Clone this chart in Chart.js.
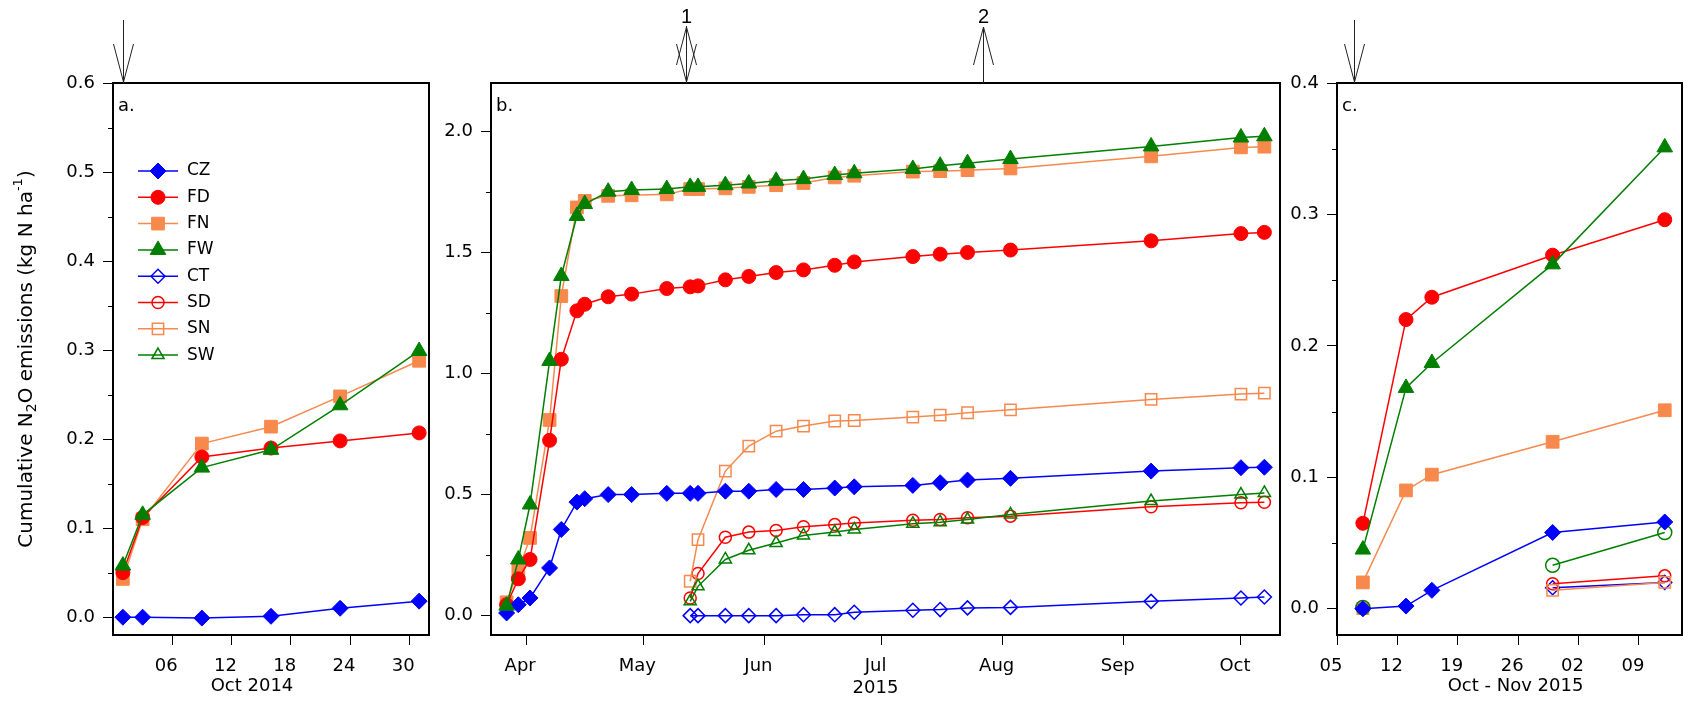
<!DOCTYPE html>
<html>
<head>
<meta charset="utf-8">
<script src="https://cdn.jsdelivr.net/npm/chart.js@4.4.1/dist/chart.umd.min.js"></script>
<style>
  html, body { margin: 0; padding: 0; background: #fff; }
  #wrap { position: relative; width: 1692px; height: 702px; overflow: hidden; }
  .panel { position: absolute; top: 0; height: 702px; }
</style>
</head>
<body>
<div id="wrap">
  <div class="panel" style="left:0;width:440px"><canvas id="chartA" width="440" height="702"></canvas></div>
  <div class="panel" style="left:440px;width:850px"><canvas id="chartB" width="850" height="702"></canvas></div>
  <div class="panel" style="left:1290px;width:402px"><canvas id="chartC" width="402" height="702"></canvas></div>
</div>
<script>
Chart.defaults.font.family = '"DejaVu Sans", sans-serif';
Chart.defaults.color = '#000';

const DAY = 86400000;
const dayOf = (d, origin) => (Date.parse(d) - Date.parse(origin)) / DAY;

const seriesNames = ['CZ', 'FD', 'FN', 'FW', 'CT', 'SD', 'SN', 'SW'];

// a. Oct 2014
const datesA = ['2014-10-01', '2014-10-03', '2014-10-09', '2014-10-16', '2014-10-23', '2014-10-31'];
const czA = [0.000, 0.000, -0.001, 0.001, 0.010, 0.018];
const fdA = [0.050, 0.112, 0.180, 0.190, 0.198, 0.207];
const fnA = [0.043, 0.110, 0.195, 0.214, 0.248, 0.288];
const fwA = [0.058, 0.115, 0.168, 0.188, 0.238, 0.299];
const xTicksA = ['2014-10-06', '2014-10-12', '2014-10-18', '2014-10-24', '2014-10-30'];
const xLabelsA = ['06', '12', '18', '24', '30'];
const yTicksA = [0, 0.1, 0.2, 0.3, 0.4, 0.5, 0.6];
const yMinorA = [0.05, 0.15, 0.25, 0.35, 0.45, 0.55];

// b. 2015
const datesB = ['2015-03-27', '2015-03-30', '2015-04-02', '2015-04-07', '2015-04-10', '2015-04-14', '2015-04-16',
  '2015-04-22', '2015-04-28', '2015-05-07', '2015-05-13', '2015-05-15', '2015-05-22', '2015-05-28', '2015-06-04',
  '2015-06-11', '2015-06-19', '2015-06-24', '2015-07-09', '2015-07-16', '2015-07-23', '2015-08-03', '2015-09-08',
  '2015-10-01', '2015-10-07'];
const czB = [0.011, 0.045, 0.073, 0.197, 0.356, 0.469, 0.483, 0.500, 0.500, 0.505, 0.505, 0.505, 0.514, 0.514,
  0.521, 0.521, 0.527, 0.532, 0.538, 0.549, 0.560, 0.567, 0.597, 0.611, 0.613];
const fdB = [0.045, 0.152, 0.232, 0.724, 1.059, 1.259, 1.286, 1.317, 1.328, 1.351, 1.358, 1.362, 1.387, 1.401,
  1.417, 1.428, 1.447, 1.461, 1.483, 1.493, 1.500, 1.510, 1.548, 1.578, 1.583];
const fnB = [0.055, 0.187, 0.321, 0.808, 1.320, 1.686, 1.713, 1.734, 1.736, 1.740, 1.762, 1.762, 1.765, 1.771,
  1.778, 1.787, 1.810, 1.817, 1.834, 1.836, 1.840, 1.847, 1.897, 1.934, 1.937];
const fwB = [0.041, 0.232, 0.459, 1.052, 1.403, 1.651, 1.700, 1.751, 1.758, 1.762, 1.771, 1.771, 1.778, 1.785,
  1.796, 1.803, 1.820, 1.827, 1.845, 1.858, 1.869, 1.886, 1.938, 1.975, 1.980];
const ctB = [null, null, null, null, null, null, null, null, null, null, 0.000, 0.000, 0.000, 0.000,
  0.000, 0.004, 0.004, 0.014, 0.022, 0.025, 0.032, 0.034, 0.059, 0.073, 0.077];
const sdB = [null, null, null, null, null, null, null, null, null, null, 0.073, 0.174, 0.324, 0.345,
  0.352, 0.367, 0.376, 0.383, 0.394, 0.397, 0.404, 0.411, 0.450, 0.466, 0.468];
const snB = [null, null, null, null, null, null, null, null, null, null, 0.142, 0.314, 0.597, 0.700,
  0.762, 0.783, 0.804, 0.806, 0.820, 0.828, 0.838, 0.850, 0.893, 0.915, 0.919];
const swB = [null, null, null, null, null, null, null, null, null, null, 0.059, 0.121, 0.232, 0.270,
  0.300, 0.331, 0.345, 0.356, 0.380, 0.386, 0.397, 0.418, 0.473, 0.500, 0.507];
const xTicksB = ['2015-04-01', '2015-05-01', '2015-06-01', '2015-07-01', '2015-08-01', '2015-09-01', '2015-10-01'];
const xLabelsB = ['Apr', 'May', 'Jun', 'Jul', 'Aug', 'Sep', 'Oct'];
const yTicksB = [0, 0.5, 1.0, 1.5, 2.0];
const yMinorB = [0.25, 0.75, 1.25, 1.75];

// c. Oct - Nov 2015
const datesC = ['2015-10-08', '2015-10-13', '2015-10-16', '2015-10-30', '2015-11-12'];
const czC = [0.000, 0.002, 0.014, 0.058, 0.066];
const fdC = [0.065, 0.220, 0.237, 0.269, 0.296];
const fnC = [0.020, 0.090, 0.102, 0.127, 0.151];
const fwC = [0.045, 0.168, 0.187, 0.262, 0.351];
const ctC = [0.000, null, null, 0.016, 0.020];
const sdC = [0.000, null, null, 0.019, 0.025];
const snC = [0.000, null, null, 0.014, 0.020];
const swC = [0.001, null, null, 0.033, 0.058];
const xTicksC = ['2015-10-05', '2015-10-12', '2015-10-19', '2015-10-26', '2015-11-02', '2015-11-09'];
const xLabelsC = ['05', '12', '19', '26', '02', '09'];
const yTicksC = [0, 0.1, 0.2, 0.3, 0.4];
const yMinorC = [0.05, 0.15, 0.25, 0.35];

// marker look per treatment
const look = {
  CZ: { color: '#0000ff', shape: 'rectRot', fill: true, r: 8, order: 1 },
  FD: { color: '#ff0000', shape: 'circle', fill: true, r: 7, order: 2 },
  FN: { color: '#f7894d', shape: 'rect', fill: true, r: 9, order: 3 },
  FW: { color: '#007f00', shape: 'triangle', fill: true, r: 9, order: 0 },
  CT: { color: '#0000ff', shape: 'rectRot', fill: false, r: 7, order: 7 },
  SD: { color: '#ff0000', shape: 'circle', fill: false, r: 6, order: 6 },
  SN: { color: '#f7894d', shape: 'rect', fill: false, r: 8, order: 5 },
  SW: { color: '#007f00', shape: 'triangle', fill: false, r: 7, order: 4 }
};

function drawMarker(ctx, name, shape, x, y) {
  const lk = look[name];
  ctx.save();
  ctx.fillStyle = lk.fill ? lk.color : 'rgba(255,255,255,0)';
  ctx.strokeStyle = lk.color;
  ctx.lineWidth = lk.fill ? 1 : 1.5;
  Chart.helpers.drawPoint(ctx, { pointStyle: shape || lk.shape, radius: lk.r, rotation: 0, borderWidth: ctx.lineWidth }, x, y);
  ctx.restore();
}

function drawYTitle(ctx, cx, cy) {
  const parts = [
    { t: 'Cumulative N', size: 20, dy: 0 },
    { t: '2', size: 14, dy: 5 },
    { t: 'O emissions (kg N ha', size: 20, dy: 0 },
    { t: '-1', size: 13, dy: -8 },
    { t: ')', size: 20, dy: 0 }
  ];
  ctx.save();
  ctx.translate(cx, cy);
  ctx.rotate(-Math.PI / 2);
  ctx.fillStyle = '#000';
  ctx.textBaseline = 'middle';
  ctx.textAlign = 'left';
  let total = 0;
  parts.forEach(p => { ctx.font = p.size + 'px "DejaVu Sans"'; p.w = ctx.measureText(p.t).width; total += p.w; });
  let x = -total / 2;
  parts.forEach(p => { ctx.font = p.size + 'px "DejaVu Sans"'; ctx.fillText(p.t, x, p.dy); x += p.w; });
  ctx.restore();
}

// frame, minor ticks, panel letter, arrows, titles, legend
function decor(cfg) {
  return {
    id: 'decor',
    afterDraw(chart) {
      const ctx = chart.ctx, a = chart.chartArea, xs = chart.scales.x, ys = chart.scales.y;
      ctx.save();
      ctx.strokeStyle = '#000';
      ctx.fillStyle = '#000';
      ctx.lineWidth = 1;
      ctx.beginPath();
      cfg.yMinor.forEach(v => {
        const py = Math.round(ys.getPixelForValue(v)) + 0.5;
        ctx.moveTo(a.left - 5, py);
        ctx.lineTo(a.left, py);
      });
      ctx.stroke();
      ctx.lineWidth = 2;
      ctx.strokeRect(a.left, a.top, a.right - a.left, a.bottom - a.top);

      ctx.font = '18px "DejaVu Sans"';
      ctx.textAlign = 'left';
      ctx.textBaseline = 'alphabetic';
      ctx.fillText(cfg.letter, a.left + 5, a.top + 28);

      // arrows
      ctx.lineWidth = 1;
      ctx.strokeStyle = '#222';
      cfg.arrows.forEach(ar => {
        const px = Math.round(xs.getPixelForValue(dayOf(ar.date, cfg.origin))) + 0.5;
        ctx.beginPath();
        if (ar.dir === 'down' || ar.dir === 'both') {
          ctx.moveTo(px, ar.dir === 'down' ? 20 : 26);
          ctx.lineTo(px, a.top);
          ctx.moveTo(px - 10, a.top - 39);
          ctx.lineTo(px, a.top - 1);
          ctx.lineTo(px + 10, a.top - 39);
        }
        if (ar.dir === 'up' || ar.dir === 'both') {
          ctx.moveTo(px, a.top);
          ctx.lineTo(px, 27);
          ctx.moveTo(px - 10, 65);
          ctx.lineTo(px, 27);
          ctx.lineTo(px + 10, 65);
        }
        ctx.stroke();
        if (ar.label) {
          ctx.font = '20px "Liberation Sans"';
          ctx.textAlign = 'center';
          ctx.textBaseline = 'middle';
          ctx.fillText(ar.label, px, 17);
        }
      });

      // x title
      ctx.font = '18px "DejaVu Sans"';
      ctx.textAlign = 'center';
      ctx.textBaseline = 'middle';
      ctx.fillText(cfg.xTitle, (a.left + a.right) / 2 + cfg.xTitleDx, cfg.xTitleY);

      if (cfg.yTitle) drawYTitle(ctx, 27, 359);

      // legend
      if (cfg.legend) {
        seriesNames.forEach((name, i) => {
          const ly = a.top + 88 + i * 26.3;
          ctx.strokeStyle = look[name].color;
          ctx.lineWidth = 1.5;
          ctx.beginPath();
          ctx.moveTo(a.left + 25, ly);
          ctx.lineTo(a.left + 65, ly);
          ctx.stroke();
          drawMarker(ctx, name, null, a.left + 45, ly);
          ctx.fillStyle = '#000';
          ctx.font = '17px "DejaVu Sans"';
          ctx.textAlign = 'left';
          ctx.textBaseline = 'middle';
          ctx.fillText(name, a.left + 74, ly);
        });
      }
      ctx.restore();
    }
  };
}

function makeChart(id, opt) {
  const datasets = opt.series.map(s => {
    const lk = look[s.name];
    return {
      label: s.name,
      data: opt.dates.map((d, i) => ({ x: dayOf(d, opt.origin), y: s.values[i] })),
      borderColor: lk.color,
      backgroundColor: lk.fill ? lk.color : 'rgba(255,255,255,0)',
      pointBackgroundColor: lk.fill ? lk.color : 'rgba(255,255,255,0)',
      pointBorderColor: lk.color,
      pointBorderWidth: lk.fill ? 1 : 1.5,
      pointStyle: s.shape || lk.shape,
      pointRadius: lk.r,
      borderWidth: 1.5,
      tension: 0,
      spanGaps: false,
      order: lk.order
    };
  });
  const gridOpts = { display: true, drawOnChartArea: false, drawTicks: true, tickLength: 10, color: '#000', lineWidth: 1 };
  return new Chart(document.getElementById(id), {
    type: 'line',
    data: { datasets },
    options: {
      responsive: false,
      animation: false,
      devicePixelRatio: 1,
      events: [],
      layout: { padding: { top: 83, right: opt.padRight, left: 0, bottom: 0 } },
      plugins: { legend: { display: false }, tooltip: { enabled: false } },
      scales: {
        x: {
          type: 'linear',
          min: dayOf(opt.xStart, opt.origin),
          max: dayOf(opt.xEnd, opt.origin),
          afterBuildTicks: sc => { sc.ticks = opt.xTicks.map(d => ({ value: dayOf(d, opt.origin) })); },
          afterFit: sc => { sc.height = 67; },
          ticks: { callback: (v, i) => opt.xLabels[i], font: { size: 18 }, labelOffset: -6, padding: 11, maxRotation: 0, autoSkip: false },
          grid: gridOpts,
          border: { display: false }
        },
        y: {
          type: 'linear',
          min: opt.yMin,
          max: opt.yMax,
          afterBuildTicks: sc => { sc.ticks = opt.yTicks.map(v => ({ value: v })); },
          afterFit: sc => { sc.width = opt.left; },
          ticks: { callback: v => v.toFixed(1), font: { size: 18 }, padding: 8 },
          grid: gridOpts,
          border: { display: false }
        }
      }
    },
    plugins: [decor(opt.decor)]
  });
}

makeChart('chartA', {
  origin: '2014-09-30', xStart: '2014-09-30', xEnd: '2014-11-01', dates: datesA,
  series: [{ name: 'CZ', values: czA }, { name: 'FD', values: fdA }, { name: 'FN', values: fnA }, { name: 'FW', values: fwA }],
  xTicks: xTicksA, xLabels: xLabelsA, yTicks: yTicksA, yMin: -0.02, yMax: 0.6,
  left: 113, padRight: 11,
  decor: { origin: '2014-09-30', yMinor: yMinorA, letter: 'a.', xTitle: 'Oct 2014', xTitleDx: -19, xTitleY: 686,
    arrows: [{ date: '2014-10-01', dir: 'down' }], legend: true, yTitle: true }
});

makeChart('chartB', {
  origin: '2015-04-01', xStart: '2015-03-23', xEnd: '2015-10-11', dates: datesB,
  series: [{ name: 'CZ', values: czB }, { name: 'FD', values: fdB }, { name: 'FN', values: fnB }, { name: 'FW', values: fwB },
    { name: 'CT', values: ctB }, { name: 'SD', values: sdB }, { name: 'SN', values: snB }, { name: 'SW', values: swB }],
  xTicks: xTicksB, xLabels: xLabelsB, yTicks: yTicksB, yMin: -0.08, yMax: 2.2,
  left: 51, padRight: 9,
  decor: { origin: '2015-04-01', yMinor: yMinorB, letter: 'b.', xTitle: '2015', xTitleDx: -10, xTitleY: 688,
    arrows: [{ date: '2015-05-12', dir: 'both', label: '1' }, { date: '2015-07-27', dir: 'up', label: '2' }] }
});

makeChart('chartC', {
  origin: '2015-10-05', xStart: '2015-10-05', xEnd: '2015-11-14', dates: datesC,
  series: [{ name: 'CZ', values: czC }, { name: 'FD', values: fdC }, { name: 'FN', values: fnC }, { name: 'FW', values: fwC },
    { name: 'CT', values: ctC }, { name: 'SD', values: sdC }, { name: 'SN', values: snC }, { name: 'SW', values: swC, shape: 'circle' }],
  xTicks: xTicksC, xLabels: xLabelsC, yTicks: yTicksC, yMin: -0.02, yMax: 0.4,
  left: 47, padRight: 2,
  decor: { origin: '2015-10-05', yMinor: yMinorC, letter: 'c.', xTitle: 'Oct - Nov 2015', xTitleDx: 6, xTitleY: 686,
    arrows: [{ date: '2015-10-07', dir: 'down' }] }
});
</script>
</body>
</html>
